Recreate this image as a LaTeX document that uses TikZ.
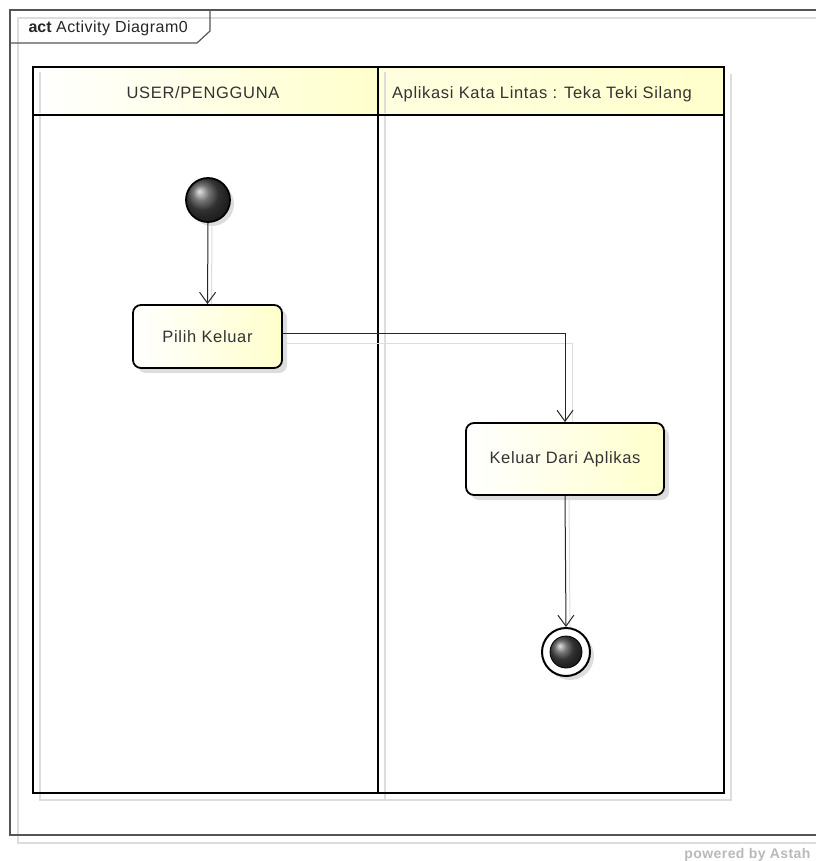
\documentclass[tikz,border=0pt]{standalone}
\usepackage{fontspec}
\setmainfont{Liberation Sans}
\newfontfamily\lanefont[LetterSpace=4]{Liberation Sans}
\usetikzlibrary{arrows.meta,shadows,positioning}
\definecolor{paleyellow}{HTML}{FFFFCC}
\definecolor{framegray}{HTML}{555555}
\definecolor{shadegray}{HTML}{DDDDDD}
\tikzset{
  frameline/.style={draw=framegray, line width=1.2pt},
  frameshadow/.style={draw=shadegray, line width=1.2pt},
  laneline/.style={draw=black, line width=2.4pt},
  laneshadow/.style={draw=shadegray, line width=2.2pt},
  action/.style={draw=black, line width=1.8pt, rounded corners=8pt,
    left color=white, right color=paleyellow,
    drop shadow={shadow xshift=5pt, shadow yshift=-5pt, fill=shadegray, opacity=1},
    font=\lanefont\fontsize{16.5}{18}\selectfont, text=black!80, inner sep=0pt},
  flow/.style={draw=black!85, line width=1pt, -{Straight Barb[length=11pt,width=16pt,line width=1pt]}},
  flowshadow/.style={draw=shadegray, line width=1pt},
  lanetext/.style={font=\lanefont\fontsize{16.5}{18}\selectfont, text=black!80},
}
\begin{document}
\begin{tikzpicture}[x=1pt,y=-1pt]
\useasboundingbox (0,0) rectangle (816,861);
% outer frame shadow + frame
\draw[frameshadow] (816,18) -- (18,18) -- (18,843) -- (816,843);
\draw[frameline] (816,10) -- (10,10) -- (10,835) -- (816,835);
% tab
\draw[frameline] (10,43) -- (197,43) -- (210,31) -- (210,10);
\node[anchor=west, font=\fontsize{16}{18}\selectfont, text=black!85] (tab) at (25,28)
  {\textbf{act} {\addfontfeature{LetterSpace=3}Activity Diagram0}};
% swimlane shadows
\draw[laneshadow] (40,74) -- (40,800) -- (731,800) -- (731,74);
\draw[laneshadow] (385,74) -- (385,800);
% headers fill
\shade[left color=white, right color=paleyellow] (33,67) rectangle (378,115);
\shade[left color=paleyellow!60, right color=paleyellow] (378,67) rectangle (724,115);
\draw[draw=shadegray, line width=1.5pt] (40,72) -- (40,113);
\draw[draw=shadegray, line width=1.5pt] (385,72) -- (385,113);
% lanes
\draw[laneline] (33,67) rectangle (724,793);
\draw[laneline] (33,115) -- (724,115);
\draw[laneline] (378,67) -- (378,793);
\node[lanetext] (lane1) at (203,93) {USER/PENGGUNA};
\node[lanetext] (lane2) at (542,94) {Aplikasi Kata Lintas : Teka Teki Silang};
% initial node
\node[circle, draw=black, line width=1.8pt, minimum size=44pt, inner sep=0pt,
  ball color=gray!55!black, drop shadow={shadow xshift=4pt, shadow yshift=-4pt, fill=shadegray, opacity=1}]
  (start) at (208,200) {};
% actions
\node[action, minimum width=149pt, minimum height=63pt] (pilih) at (207.5,336.5) {Pilih Keluar};
\node[action, minimum width=198pt, minimum height=72pt] (keluar) at (565,459) {Keluar Dari Aplikas};
% final node
\node[circle, draw=black, line width=2pt, minimum size=48pt, inner sep=0pt, fill=white,
  drop shadow={shadow xshift=4pt, shadow yshift=-4pt, fill=shadegray, opacity=1}]
  (final) at (566,652) {};
\node[circle, minimum size=32pt, inner sep=0pt, ball color=gray!55!black, draw=black, line width=0.8pt]
  (finalin) at (final.center) {};
% connector shadows
\draw[flowshadow] ([xshift=4pt]start.south) -- ([xshift=4pt]pilih.north);
\draw[flowshadow] ([yshift=-7pt]pilih.east) -| ([xshift=7pt]keluar.north);
\draw[flowshadow] ([xshift=4pt]keluar.south) -- ([xshift=4pt]final.north);
% connectors
\draw[flow] (pilih.east) ++(0,-3.5) coordinate (pe) (pe) -| (keluar.north);
\draw[flow] (start.south) -- (pilih.north);
\draw[flow] (keluar.south) -- (final.north);
% watermark
\node[anchor=east, font=\bfseries\fontsize{14}{16}\selectfont, text=gray!55] (astah) at (814,855) {\addfontfeature{LetterSpace=3}powered by Astah};
\end{tikzpicture}
\end{document}
